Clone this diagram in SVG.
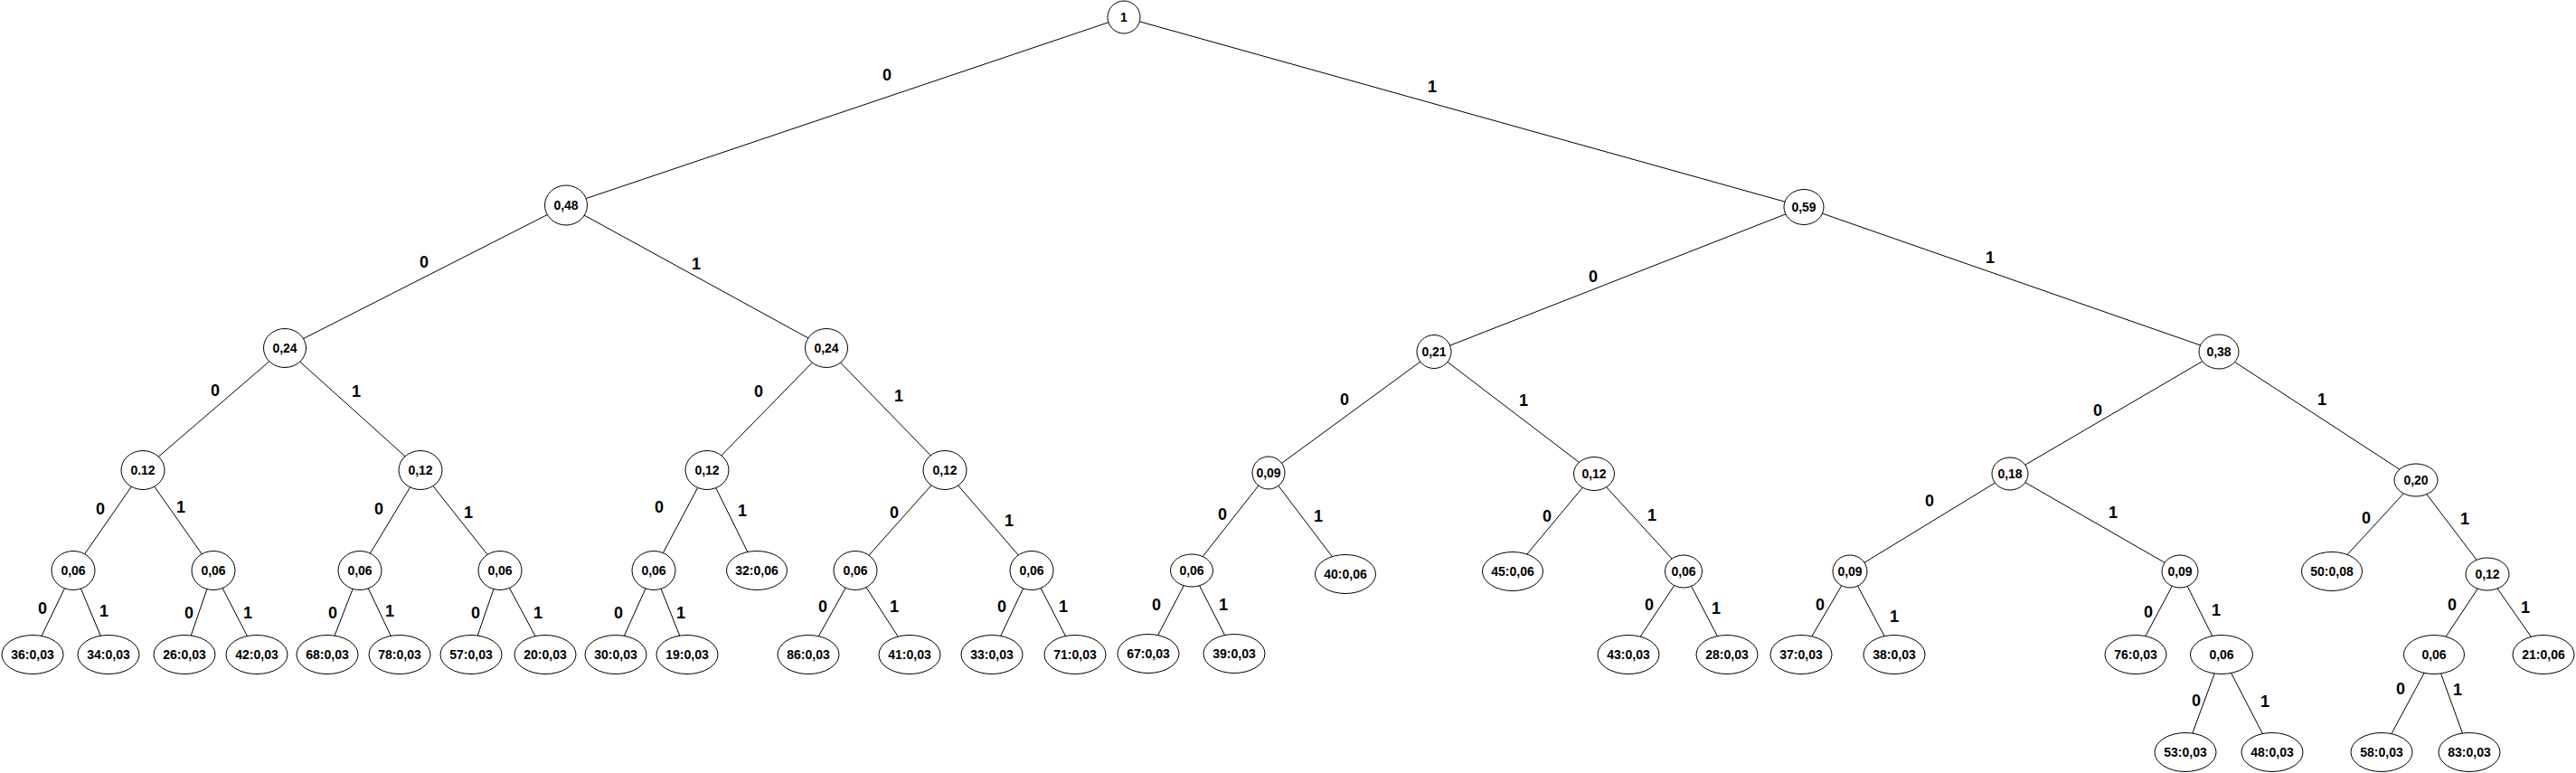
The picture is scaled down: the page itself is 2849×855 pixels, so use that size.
<svg xmlns="http://www.w3.org/2000/svg" width="2849" height="855" viewBox="0 0 2849 855">
<style>
.bg{fill:#fff}
.n{fill:#fff;stroke:#000;stroke-width:1}
.t{font-family:"Liberation Sans",Arial,sans-serif;font-size:14px;font-weight:bold;text-anchor:middle;fill:#000}
.e{font-family:"Liberation Sans",Arial,sans-serif;font-size:18px;font-weight:bold;text-anchor:middle;fill:#000}
#connectors line{stroke:#000;stroke-width:1}
</style>
<rect class="bg" x="0" y="0" width="2849" height="855"/>
<g id="connectors">
<line x1="1243" y1="19" x2="626" y2="227"/>
<line x1="1243" y1="19" x2="1995" y2="229"/>
<line x1="626" y1="227" x2="315" y2="385"/>
<line x1="626" y1="227" x2="914" y2="385"/>
<line x1="315" y1="385" x2="158" y2="520"/>
<line x1="315" y1="385" x2="465" y2="520"/>
<line x1="914" y1="385" x2="782" y2="520"/>
<line x1="914" y1="385" x2="1045" y2="520"/>
<line x1="1995" y1="229" x2="1586" y2="389"/>
<line x1="1995" y1="229" x2="2454" y2="389"/>
<line x1="1586" y1="389" x2="1403" y2="523"/>
<line x1="1586" y1="389" x2="1763" y2="524"/>
<line x1="2454" y1="389" x2="2223" y2="524"/>
<line x1="2454" y1="389" x2="2672" y2="531"/>
<line x1="158" y1="520" x2="81" y2="631"/>
<line x1="158" y1="520" x2="236" y2="631"/>
<line x1="465" y1="520" x2="398" y2="631"/>
<line x1="465" y1="520" x2="553" y2="631"/>
<line x1="782" y1="520" x2="723" y2="631"/>
<line x1="782" y1="520" x2="837" y2="631"/>
<line x1="1045" y1="520" x2="946" y2="631"/>
<line x1="1045" y1="520" x2="1141" y2="631"/>
<line x1="1403" y1="523" x2="1318" y2="631"/>
<line x1="1403" y1="523" x2="1488" y2="635"/>
<line x1="1763" y1="524" x2="1673" y2="632"/>
<line x1="1763" y1="524" x2="1862" y2="632"/>
<line x1="2223" y1="524" x2="2046" y2="632"/>
<line x1="2223" y1="524" x2="2411" y2="632"/>
<line x1="2672" y1="531" x2="2579" y2="632"/>
<line x1="2672" y1="531" x2="2751" y2="635"/>
<line x1="81" y1="631" x2="36" y2="724"/>
<line x1="81" y1="631" x2="120" y2="724"/>
<line x1="236" y1="631" x2="204" y2="724"/>
<line x1="236" y1="631" x2="284" y2="724"/>
<line x1="398" y1="631" x2="362" y2="724"/>
<line x1="398" y1="631" x2="442" y2="724"/>
<line x1="553" y1="631" x2="521" y2="724"/>
<line x1="553" y1="631" x2="603" y2="724"/>
<line x1="723" y1="631" x2="681" y2="724"/>
<line x1="723" y1="631" x2="760" y2="724"/>
<line x1="946" y1="631" x2="894" y2="724"/>
<line x1="946" y1="631" x2="1006" y2="724"/>
<line x1="1141" y1="631" x2="1097" y2="724"/>
<line x1="1141" y1="631" x2="1189" y2="724"/>
<line x1="1318" y1="631" x2="1270" y2="723"/>
<line x1="1318" y1="631" x2="1365" y2="723"/>
<line x1="1862" y1="632" x2="1801" y2="724"/>
<line x1="1862" y1="632" x2="1910" y2="724"/>
<line x1="2046" y1="632" x2="1992" y2="724"/>
<line x1="2046" y1="632" x2="2095" y2="724"/>
<line x1="2411" y1="632" x2="2362" y2="724"/>
<line x1="2411" y1="632" x2="2457" y2="724"/>
<line x1="2751" y1="635" x2="2692" y2="724"/>
<line x1="2751" y1="635" x2="2813" y2="724"/>
<line x1="2457" y1="724" x2="2417" y2="832"/>
<line x1="2457" y1="724" x2="2513" y2="832"/>
<line x1="2692" y1="724" x2="2634" y2="832"/>
<line x1="2692" y1="724" x2="2731" y2="832"/>
</g>
<g id="edge-labels">
<text class="e" x="981" y="89">0</text>
<text class="e" x="1584" y="102">1</text>
<text class="e" x="469" y="296">0</text>
<text class="e" x="770" y="298">1</text>
<text class="e" x="238" y="438">0</text>
<text class="e" x="394" y="439">1</text>
<text class="e" x="839" y="439">0</text>
<text class="e" x="994" y="444">1</text>
<text class="e" x="1762" y="312">0</text>
<text class="e" x="2201" y="291">1</text>
<text class="e" x="1487" y="448">0</text>
<text class="e" x="1685" y="449">1</text>
<text class="e" x="2320" y="460">0</text>
<text class="e" x="2568" y="448">1</text>
<text class="e" x="111" y="569">0</text>
<text class="e" x="200" y="567">1</text>
<text class="e" x="419" y="569">0</text>
<text class="e" x="518" y="573">1</text>
<text class="e" x="729" y="567">0</text>
<text class="e" x="821" y="571">1</text>
<text class="e" x="989" y="573">0</text>
<text class="e" x="1116" y="582">1</text>
<text class="e" x="1352" y="575">0</text>
<text class="e" x="1458" y="577">1</text>
<text class="e" x="1711" y="577">0</text>
<text class="e" x="1827" y="576">1</text>
<text class="e" x="2134" y="560">0</text>
<text class="e" x="2337" y="573">1</text>
<text class="e" x="2617" y="579">0</text>
<text class="e" x="2726" y="580">1</text>
<text class="e" x="47" y="679">0</text>
<text class="e" x="115" y="682">1</text>
<text class="e" x="209" y="684">0</text>
<text class="e" x="274" y="684">1</text>
<text class="e" x="368" y="684">0</text>
<text class="e" x="431" y="682">1</text>
<text class="e" x="526" y="684">0</text>
<text class="e" x="595" y="684">1</text>
<text class="e" x="684" y="684">0</text>
<text class="e" x="753" y="684">1</text>
<text class="e" x="910" y="677">0</text>
<text class="e" x="989" y="677">1</text>
<text class="e" x="1108" y="677">0</text>
<text class="e" x="1176" y="677">1</text>
<text class="e" x="1279" y="675">0</text>
<text class="e" x="1353" y="675">1</text>
<text class="e" x="1824" y="675">0</text>
<text class="e" x="1898" y="679">1</text>
<text class="e" x="2013" y="675">0</text>
<text class="e" x="2095" y="688">1</text>
<text class="e" x="2376" y="683">0</text>
<text class="e" x="2451" y="681">1</text>
<text class="e" x="2712" y="675">0</text>
<text class="e" x="2793" y="678">1</text>
<text class="e" x="2429" y="781">0</text>
<text class="e" x="2505" y="782">1</text>
<text class="e" x="2655" y="768">0</text>
<text class="e" x="2718" y="769">1</text>
</g>
<g id="n-root"><ellipse class="n" cx="1243" cy="19" rx="18" ry="18"/><text class="t" x="1243" y="24">1</text></g>
<g id="n-0"><ellipse class="n" cx="626" cy="227" rx="23.5" ry="22"/><text class="t" x="626" y="232">0,48</text></g>
<g id="n-1"><ellipse class="n" cx="1995" cy="229" rx="22" ry="19.5"/><text class="t" x="1995" y="234">0,59</text></g>
<g id="n-00"><ellipse class="n" cx="315" cy="385" rx="23.5" ry="21.5"/><text class="t" x="315" y="390">0,24</text></g>
<g id="n-01"><ellipse class="n" cx="914" cy="385" rx="23.5" ry="21.5"/><text class="t" x="914" y="390">0,24</text></g>
<g id="n-10"><ellipse class="n" cx="1586" cy="389" rx="19" ry="18.5"/><text class="t" x="1586" y="394">0,21</text></g>
<g id="n-11"><ellipse class="n" cx="2454" cy="389" rx="22" ry="19"/><text class="t" x="2454" y="394">0,38</text></g>
<g id="n-000"><ellipse class="n" cx="158" cy="520" rx="24" ry="21.5"/><text class="t" x="158" y="525">0.12</text></g>
<g id="n-001"><ellipse class="n" cx="465" cy="520" rx="24" ry="21.5"/><text class="t" x="465" y="525">0,12</text></g>
<g id="n-010"><ellipse class="n" cx="782" cy="520" rx="24" ry="21.5"/><text class="t" x="782" y="525">0,12</text></g>
<g id="n-011"><ellipse class="n" cx="1045" cy="520" rx="24" ry="21.5"/><text class="t" x="1045" y="525">0,12</text></g>
<g id="n-100"><ellipse class="n" cx="1403" cy="523" rx="18" ry="18"/><text class="t" x="1403" y="528">0,09</text></g>
<g id="n-101"><ellipse class="n" cx="1763" cy="524" rx="22.5" ry="18.5"/><text class="t" x="1763" y="529">0,12</text></g>
<g id="n-110"><ellipse class="n" cx="2223" cy="524" rx="20" ry="18"/><text class="t" x="2223" y="529">0,18</text></g>
<g id="n-111"><ellipse class="n" cx="2672" cy="531" rx="24" ry="18"/><text class="t" x="2672" y="536">0,20</text></g>
<g id="n-0000"><ellipse class="n" cx="81" cy="631" rx="24" ry="21.5"/><text class="t" x="81" y="636">0,06</text></g>
<g id="n-0001"><ellipse class="n" cx="236" cy="631" rx="24" ry="21.5"/><text class="t" x="236" y="636">0,06</text></g>
<g id="n-0010"><ellipse class="n" cx="398" cy="631" rx="24" ry="21.5"/><text class="t" x="398" y="636">0,06</text></g>
<g id="n-0011"><ellipse class="n" cx="553" cy="631" rx="24" ry="21.5"/><text class="t" x="553" y="636">0,06</text></g>
<g id="n-0100"><ellipse class="n" cx="723" cy="631" rx="24" ry="21.5"/><text class="t" x="723" y="636">0,06</text></g>
<g id="n-0101"><ellipse class="n" cx="837" cy="631" rx="33.5" ry="21.5"/><text class="t" x="837" y="636">32:0,06</text></g>
<g id="n-0110"><ellipse class="n" cx="946" cy="631" rx="24" ry="21.5"/><text class="t" x="946" y="636">0,06</text></g>
<g id="n-0111"><ellipse class="n" cx="1141" cy="631" rx="24" ry="21.5"/><text class="t" x="1141" y="636">0,06</text></g>
<g id="n-1000"><ellipse class="n" cx="1318" cy="631" rx="23.5" ry="18"/><text class="t" x="1318" y="636">0,06</text></g>
<g id="n-1001"><ellipse class="n" cx="1488" cy="635" rx="33.5" ry="21.5"/><text class="t" x="1488" y="640">40:0,06</text></g>
<g id="n-1010"><ellipse class="n" cx="1673" cy="632" rx="33.5" ry="21.5"/><text class="t" x="1673" y="637">45:0,06</text></g>
<g id="n-1011"><ellipse class="n" cx="1862" cy="632" rx="20.5" ry="18"/><text class="t" x="1862" y="637">0,06</text></g>
<g id="n-1100"><ellipse class="n" cx="2046" cy="632" rx="19" ry="18"/><text class="t" x="2046" y="637">0,09</text></g>
<g id="n-1101"><ellipse class="n" cx="2411" cy="632" rx="20" ry="18"/><text class="t" x="2411" y="637">0,09</text></g>
<g id="n-1110"><ellipse class="n" cx="2579" cy="632" rx="33.5" ry="21.5"/><text class="t" x="2579" y="637">50:0,08</text></g>
<g id="n-1111"><ellipse class="n" cx="2751" cy="635" rx="24" ry="18"/><text class="t" x="2751" y="640">0,12</text></g>
<g id="n-00000"><ellipse class="n" cx="36" cy="724" rx="34" ry="21.5"/><text class="t" x="36" y="729">36:0,03</text></g>
<g id="n-00001"><ellipse class="n" cx="120" cy="724" rx="34" ry="21.5"/><text class="t" x="120" y="729">34:0,03</text></g>
<g id="n-00010"><ellipse class="n" cx="204" cy="724" rx="34" ry="21.5"/><text class="t" x="204" y="729">26:0,03</text></g>
<g id="n-00011"><ellipse class="n" cx="284" cy="724" rx="34" ry="21.5"/><text class="t" x="284" y="729">42:0,03</text></g>
<g id="n-00100"><ellipse class="n" cx="362" cy="724" rx="34" ry="21.5"/><text class="t" x="362" y="729">68:0,03</text></g>
<g id="n-00101"><ellipse class="n" cx="442" cy="724" rx="34" ry="21.5"/><text class="t" x="442" y="729">78:0,03</text></g>
<g id="n-00110"><ellipse class="n" cx="521" cy="724" rx="34" ry="21.5"/><text class="t" x="521" y="729">57:0,03</text></g>
<g id="n-00111"><ellipse class="n" cx="603" cy="724" rx="34" ry="21.5"/><text class="t" x="603" y="729">20:0,03</text></g>
<g id="n-01000"><ellipse class="n" cx="681" cy="724" rx="34" ry="21.5"/><text class="t" x="681" y="729">30:0,03</text></g>
<g id="n-01001"><ellipse class="n" cx="760" cy="724" rx="34" ry="21.5"/><text class="t" x="760" y="729">19:0,03</text></g>
<g id="n-01100"><ellipse class="n" cx="894" cy="724" rx="34" ry="21.5"/><text class="t" x="894" y="729">86:0,03</text></g>
<g id="n-01101"><ellipse class="n" cx="1006" cy="724" rx="34" ry="21.5"/><text class="t" x="1006" y="729">41:0,03</text></g>
<g id="n-01110"><ellipse class="n" cx="1097" cy="724" rx="34" ry="21.5"/><text class="t" x="1097" y="729">33:0,03</text></g>
<g id="n-01111"><ellipse class="n" cx="1189" cy="724" rx="34" ry="21.5"/><text class="t" x="1189" y="729">71:0,03</text></g>
<g id="n-10000"><ellipse class="n" cx="1270" cy="723" rx="34" ry="21.5"/><text class="t" x="1270" y="728">67:0,03</text></g>
<g id="n-10001"><ellipse class="n" cx="1365" cy="723" rx="34" ry="21.5"/><text class="t" x="1365" y="728">39:0,03</text></g>
<g id="n-10110"><ellipse class="n" cx="1801" cy="724" rx="34" ry="21.5"/><text class="t" x="1801" y="729">43:0,03</text></g>
<g id="n-10111"><ellipse class="n" cx="1910" cy="724" rx="34" ry="21.5"/><text class="t" x="1910" y="729">28:0,03</text></g>
<g id="n-11000"><ellipse class="n" cx="1992" cy="724" rx="34" ry="21.5"/><text class="t" x="1992" y="729">37:0,03</text></g>
<g id="n-11001"><ellipse class="n" cx="2095" cy="724" rx="34" ry="21.5"/><text class="t" x="2095" y="729">38:0,03</text></g>
<g id="n-11010"><ellipse class="n" cx="2362" cy="724" rx="34" ry="21.5"/><text class="t" x="2362" y="729">76:0,03</text></g>
<g id="n-11011"><ellipse class="n" cx="2457" cy="724" rx="34.5" ry="21.5"/><text class="t" x="2457" y="729">0,06</text></g>
<g id="n-11110"><ellipse class="n" cx="2692" cy="724" rx="33.5" ry="21.5"/><text class="t" x="2692" y="729">0,06</text></g>
<g id="n-11111"><ellipse class="n" cx="2813" cy="724" rx="34" ry="21.5"/><text class="t" x="2813" y="729">21:0,06</text></g>
<g id="n-110110"><ellipse class="n" cx="2417" cy="832" rx="34" ry="21.5"/><text class="t" x="2417" y="837">53:0,03</text></g>
<g id="n-110111"><ellipse class="n" cx="2513" cy="832" rx="34" ry="21.5"/><text class="t" x="2513" y="837">48:0,03</text></g>
<g id="n-111100"><ellipse class="n" cx="2634" cy="832" rx="34" ry="21.5"/><text class="t" x="2634" y="837">58:0,03</text></g>
<g id="n-111101"><ellipse class="n" cx="2731" cy="832" rx="34" ry="21.5"/><text class="t" x="2731" y="837">83:0,03</text></g>
</svg>
